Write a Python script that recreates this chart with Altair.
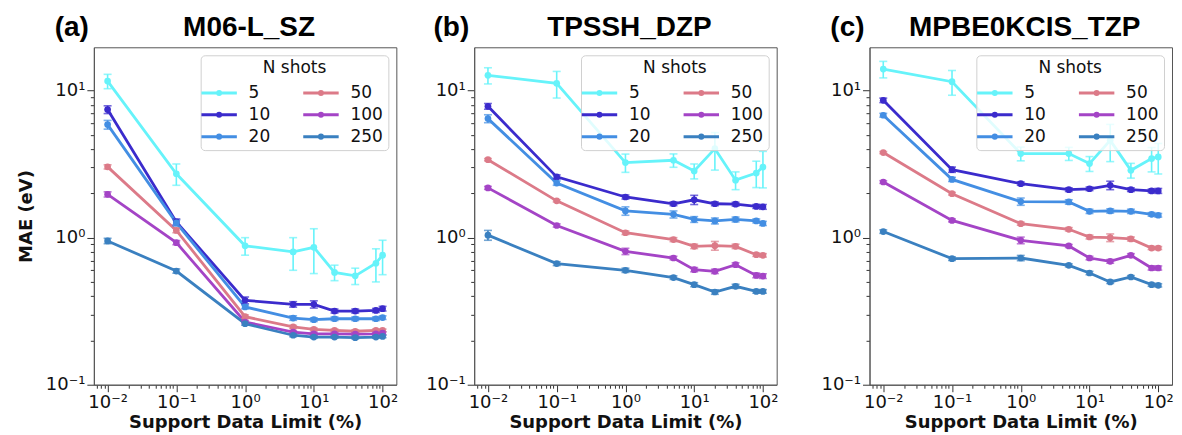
import altair as alt
import pandas as pd

# ---------------- data ----------------
support_limit = [0.01, 0.1, 1, 5, 10, 20, 40, 80, 100]
shots = ["5", "10", "20", "50", "100", "250"]
shot_colors = ["#66f3fa", "#3b2bcc", "#438ee3", "#dc7a88", "#a444c6", "#3a80c0"]

panel_letters = ["(a)", "(b)", "(c)"]
panel_names = ["M06-L_SZ", "TPSSH_DZP", "MPBE0KCIS_TZP"]

# Panel (a) M06-L_SZ
a_5 = [11.6, 2.72, 0.88, 0.80, 0.86, 0.58, 0.55, 0.67, 0.76]
a_10 = [7.43, 1.28, 0.375, 0.352, 0.352, 0.317, 0.317, 0.320, 0.329]
a_20 = [5.87, 1.26, 0.338, 0.284, 0.277, 0.281, 0.281, 0.281, 0.286]
a_50 = [3.03, 1.12, 0.290, 0.247, 0.238, 0.234, 0.231, 0.234, 0.234]
a_100 = [1.97, 0.925, 0.267, 0.228, 0.222, 0.222, 0.221, 0.222, 0.224]
a_250 = [0.95, 0.593, 0.260, 0.217, 0.211, 0.211, 0.209, 0.211, 0.213]
a_5_err = [1.3, 0.45, 0.12, 0.2, 0.29, 0.07, 0.07, 0.17, 0.2]
a_10_err = [0.45, 0.06, 0.02, 0.015, 0.02, 0.01, 0.01, 0.01, 0.012]
a_20_err = [0.4, 0.06, 0.01, 0.01, 0.008, 0.008, 0.008, 0.008, 0.008]
a_50_err = [0.1, 0.04, 0.008, 0.006, 0.005, 0.005, 0.005, 0.005, 0.005]
a_100_err = [0.08, 0.03, 0.006, 0.005, 0.005, 0.005, 0.005, 0.005, 0.005]
a_250_err = [0.04, 0.02, 0.006, 0.005, 0.004, 0.004, 0.004, 0.004, 0.004]

# Panel (b) TPSSH_DZP
b_5 = [12.7, 11.2, 3.24, 3.36, 2.84, 4.03, 2.46, 2.75, 3.02]
b_10 = [7.82, 2.59, 1.89, 1.70, 1.81, 1.70, 1.69, 1.63, 1.62]
b_20 = [6.45, 2.35, 1.52, 1.44, 1.33, 1.30, 1.33, 1.30, 1.25]
b_50 = [3.39, 1.78, 1.08, 0.97, 0.873, 0.882, 0.873, 0.766, 0.758]
b_100 = [2.18, 1.21, 0.807, 0.727, 0.606, 0.590, 0.655, 0.554, 0.548]
b_250 = [1.04, 0.666, 0.600, 0.535, 0.479, 0.427, 0.467, 0.431, 0.431]
b_5_err = [1.6, 2.3, 0.46, 0.35, 0.33, 1.15, 0.34, 0.56, 0.84]
b_10_err = [0.35, 0.08, 0.06, 0.05, 0.13, 0.05, 0.05, 0.05, 0.06]
b_20_err = [0.4, 0.08, 0.1, 0.08, 0.06, 0.06, 0.05, 0.04, 0.04]
b_50_err = [0.06, 0.03, 0.03, 0.03, 0.03, 0.06, 0.03, 0.02, 0.02]
b_100_err = [0.05, 0.03, 0.04, 0.02, 0.02, 0.02, 0.02, 0.02, 0.02]
b_250_err = [0.08, 0.02, 0.02, 0.015, 0.015, 0.015, 0.015, 0.012, 0.012]

# Panel (c) MPBE0KCIS_TZP
c_5 = [14.0, 11.5, 3.73, 3.73, 3.19, 4.59, 2.87, 3.45, 3.54]
c_10 = [8.59, 2.90, 2.33, 2.12, 2.15, 2.27, 2.12, 2.08, 2.08]
c_20 = [6.80, 2.49, 1.76, 1.75, 1.51, 1.52, 1.51, 1.44, 1.42]
c_50 = [3.79, 1.99, 1.245, 1.14, 1.01, 1.00, 0.98, 0.85, 0.85]
c_100 = [2.39, 1.31, 0.959, 0.878, 0.727, 0.690, 0.758, 0.622, 0.622]
c_250 = [1.10, 0.720, 0.727, 0.648, 0.575, 0.500, 0.540, 0.479, 0.474]
c_5_err = [1.8, 2.2, 0.4, 0.38, 0.37, 1.3, 0.33, 0.65, 0.83]
c_10_err = [0.3, 0.12, 0.06, 0.06, 0.06, 0.15, 0.06, 0.06, 0.08]
c_20_err = [0.2, 0.08, 0.1, 0.06, 0.05, 0.05, 0.05, 0.04, 0.04]
c_50_err = [0.06, 0.04, 0.03, 0.03, 0.03, 0.06, 0.03, 0.02, 0.02]
c_100_err = [0.05, 0.03, 0.05, 0.02, 0.02, 0.02, 0.02, 0.02, 0.02]
c_250_err = [0.03, 0.02, 0.03, 0.015, 0.015, 0.012, 0.012, 0.012, 0.012]

panel_values = [
    [a_5, a_10, a_20, a_50, a_100, a_250],
    [b_5, b_10, b_20, b_50, b_100, b_250],
    [c_5, c_10, c_20, c_50, c_100, c_250],
]
panel_errors = [
    [a_5_err, a_10_err, a_20_err, a_50_err, a_100_err, a_250_err],
    [b_5_err, b_10_err, b_20_err, b_50_err, b_100_err, b_250_err],
    [c_5_err, c_10_err, c_20_err, c_50_err, c_100_err, c_250_err],
]

x_ticks = [0.007, 0.008, 0.009]
for dec in [0.01, 0.1, 1, 10]:
    x_ticks += [round(k * dec, 6) for k in range(1, 10)]
x_ticks += [100]
y_ticks = []
for dec in [0.1, 1]:
    y_ticks += [round(k * dec, 6) for k in range(1, 10)]
y_ticks += [10]

# ---------------- chart ----------------
FONT = "DejaVu Sans"
W, H = 303, 338

color_scale = alt.Scale(domain=shots, range=shot_colors)
x_scale = alt.Scale(type="log", domain=[10 ** -2.2, 10 ** 2.2], nice=False)
y_scale = alt.Scale(type="log", domain=[0.1, 19.7], nice=False)

major_test = "abs(log(datum.value)/LN10 - round(log(datum.value)/LN10)) < 1e-6"
sup_expr = ("datum.value == 0.01 ? '10⁻²' : datum.value == 0.1 ? '10⁻¹' : "
            "datum.value == 1 ? '10⁰' : datum.value == 10 ? '10¹' : "
            "datum.value == 100 ? '10²' : ''")
tick_size = {"condition": {"test": major_test, "value": 7}, "value": 3.5}

symbol_path = ("M-1.5,0H1.5M-0.13,0A0.13,0.13,0,1,0,0.13,0"
               "A0.13,0.13,0,1,0,-0.13,0Z")


def make_panel(i):
    rows = []
    for s, vals, errs in zip(shots, panel_values[i], panel_errors[i]):
        for xv, yv, ev in zip(support_limit, vals, errs):
            rows.append({"x": xv, "y": yv, "lo": yv - ev, "hi": yv + ev,
                         "shots": s, "order": shots.index(s)})
    df = pd.DataFrame(rows)

    x_enc = alt.X("x:Q", scale=x_scale, title="Support Data Limit (%)",
                  axis=alt.Axis(values=x_ticks, labelExpr=sup_expr,
                                tickSize=tick_size, labelOverlap=False,
                                labelFlush=False))
    y_axis = alt.Axis(values=y_ticks, labelExpr=sup_expr,
                      tickSize=tick_size, labelOverlap=False, labelFlush=False)
    if i == 0:
        y_enc = alt.Y("y:Q", scale=y_scale, title="MAE (eV)", axis=y_axis)
    else:
        y_enc = alt.Y("y:Q", scale=y_scale, title=None, axis=y_axis)

    base = alt.Chart(df)
    color_nl = alt.Color("shots:N", scale=color_scale, legend=None)

    lines = base.mark_line(strokeWidth=2.8).encode(
        x=x_enc, y=y_enc,
        color=alt.Color("shots:N", scale=color_scale,
                        legend=alt.Legend(
                            title="N shots", orient="top-right", offset=8,
                            columns=2, symbolType=symbol_path, symbolSize=560,
                            symbolStrokeWidth=3, labelFontSize=17,
                            labelFont=FONT, titleFont=FONT, titleFontSize=17,
                            titleFontWeight="normal", titleAnchor="middle",
                            titleColor="#111", labelColor="#111",
                            fillColor="rgba(255,255,255,0.8)",
                            strokeColor="#d0d0d0", cornerRadius=4, padding=5,
                            rowPadding=0, columnPadding=26, labelOffset=16,
                            titlePadding=2)),
        order="order:Q",
    )
    pts = base.mark_circle(size=45, opacity=1).encode(
        x="x:Q", y="y:Q", color=color_nl)
    bars = base.mark_rule(strokeWidth=1.6).encode(
        x="x:Q", y="lo:Q", y2="hi:Q", color=color_nl)
    cap_lo = base.mark_tick(orient="horizontal", size=8, thickness=1.6).encode(
        x="x:Q", y="lo:Q", color=color_nl)
    cap_hi = base.mark_tick(orient="horizontal", size=8, thickness=1.6).encode(
        x="x:Q", y="hi:Q", color=color_nl)
    heads = pd.DataFrame({"letter": [panel_letters[i]],
                          "name": [panel_names[i]]})
    letter = alt.Chart(heads).mark_text(
        font="Liberation Sans", fontSize=28, fontWeight="bold", align="right",
        baseline="alphabetic", color="black").encode(
        text="letter:N", x=alt.value(-5), y=alt.value(-11))
    name = alt.Chart(heads).mark_text(
        font="Liberation Sans", fontSize=28, fontWeight="bold",
        align="center", baseline="alphabetic", color="black").encode(
        text="name:N", x=alt.value(W / 2 + 4), y=alt.value(-11))

    return alt.layer(lines, bars, cap_lo, cap_hi, pts, letter, name).properties(
        width=W, height=H)


pa, pb, pc = make_panel(0), make_panel(1), make_panel(2)
left = alt.hconcat(pa, pb, spacing=26).resolve_legend(color="independent")
chart = alt.hconcat(left, pc, spacing=41).resolve_legend(
    color="independent"
).properties(
    padding={"left": 8, "top": 5, "right": 0, "bottom": 0}
).configure_view(stroke="#555", strokeWidth=1).configure_axis(
    grid=False, domainColor="#555", tickColor="#333", tickWidth=1,
    labelFont=FONT, labelFontSize=18, labelColor="#111", labelPadding=2,
    titleFont=FONT, titleFontSize=18, titleFontWeight="bold",
    titleColor="#111",
).configure_axisX(titlePadding=2).configure_axisY(titlePadding=10)

chart.save("out.html", embed_options={"renderer": "svg", "actions": False})
